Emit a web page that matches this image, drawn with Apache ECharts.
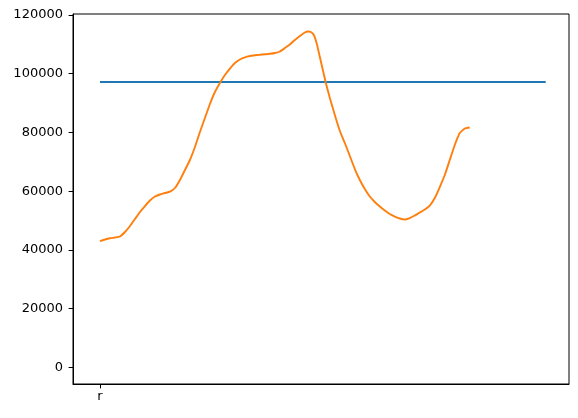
<!DOCTYPE html>
<html>
<head>
<meta charset="utf-8">
<script src="https://cdn.jsdelivr.net/npm/echarts@6/dist/echarts.min.js"></script>
<style>
  html, body { margin: 0; padding: 0; background: #fff; }
  #chart { width: 578px; height: 418px; }
</style>
</head>
<body>
<div id="chart"></div>
<script>
// x positions are in arbitrary horizontal units; the single category tick "r" sits at x = 0
const xTickValues = [0];
const xTickLabels = ['r'];
const yTickValues = [0, 20000, 40000, 60000, 80000, 100000, 120000];

// Blue: constant line
const blueX = [0, 446];
const blueY = [97200, 97200];

// Orange: smooth curve
const orangeX = [0, 5, 10, 15, 20, 25, 30, 35, 40, 45, 50, 55, 60, 65, 70, 75, 80, 85, 90, 95,
  100, 105, 110, 115, 120, 125, 130, 135, 140, 145, 150, 155, 160, 165, 170, 175, 180, 185, 190, 195,
  200, 205, 208, 211, 214, 217, 220, 223, 226, 230, 235, 240, 245, 250, 255, 260, 265, 270, 275, 280,
  285, 290, 295, 300, 305, 310, 315, 320, 325, 330, 335, 340, 345, 350, 355, 360, 365, 370];
const orangeY = [43000, 43530, 43940, 44210, 44550, 46080, 48130, 50510, 52900, 54940, 56810, 58170,
  58860, 59370, 59810, 61070, 63790, 67200, 70610, 75030, 80140, 84910, 89680, 93770, 96830, 99560,
  101770, 103640, 104840, 105590, 106030, 106270, 106440, 106610, 106780, 107050, 107560, 108750,
  109950, 111480, 112840, 114030, 114370, 114200, 113180, 110120, 105690, 101260, 96830, 91720, 85930,
  80480, 76400, 71970, 67540, 63790, 60730, 58170, 56300, 54770, 53410, 52210, 51360, 50680, 50340,
  50850, 51700, 52730, 53750, 55110, 57660, 61410, 65500, 70610, 75720, 79800, 81340, 81680];

const zip = (xs, ys) => xs.map((x, i) => [x, ys[i]]);

const chart = echarts.init(document.getElementById('chart'), null, { renderer: 'canvas' });
const font = 'DejaVu Sans';
chart.setOption({
  animation: false,
  backgroundColor: '#ffffff',
  grid: {
    left: 73, right: 9, top: 14, bottom: 34,
    show: true, borderColor: '#000', borderWidth: 1, backgroundColor: 'transparent'
  },
  xAxis: {
    type: 'value',
    min: -27,
    max: 469.3,
    splitLine: { show: false },
    axisLine: { show: true, onZero: false, lineStyle: { color: '#000', width: 1 } },
    axisTick: { show: true, length: 4.4, lineStyle: { color: '#000', width: 1 }, customValues: xTickValues },
    axisLabel: {
      show: true, color: '#000', fontFamily: font, fontSize: 13, margin: 6,
      customValues: xTickValues,
      formatter: v => { const i = xTickValues.indexOf(v); return i >= 0 ? xTickLabels[i] : ''; }
    }
  },
  yAxis: {
    type: 'value',
    min: -5690,
    max: 120340,
    splitLine: { show: false },
    axisLine: { show: true, onZero: false, lineStyle: { color: '#000', width: 1 } },
    axisTick: { show: true, length: 4.4, lineStyle: { color: '#000', width: 1 }, customValues: yTickValues },
    axisLabel: {
      show: true, color: '#000', fontFamily: font, fontSize: 13, margin: 10,
      customValues: yTickValues,
      formatter: v => String(v)
    }
  },
  series: [
    {
      type: 'line', data: zip(blueX, blueY), showSymbol: false, symbol: 'none',
      lineStyle: { color: '#1f77b4', width: 1.9 }, z: 2
    },
    {
      type: 'line', data: zip(orangeX, orangeY), showSymbol: false, symbol: 'none', smooth: 0.12,
      lineStyle: { color: '#ff7f0e', width: 1.9 }, z: 3
    }
  ]
});
</script>
</body>
</html>
